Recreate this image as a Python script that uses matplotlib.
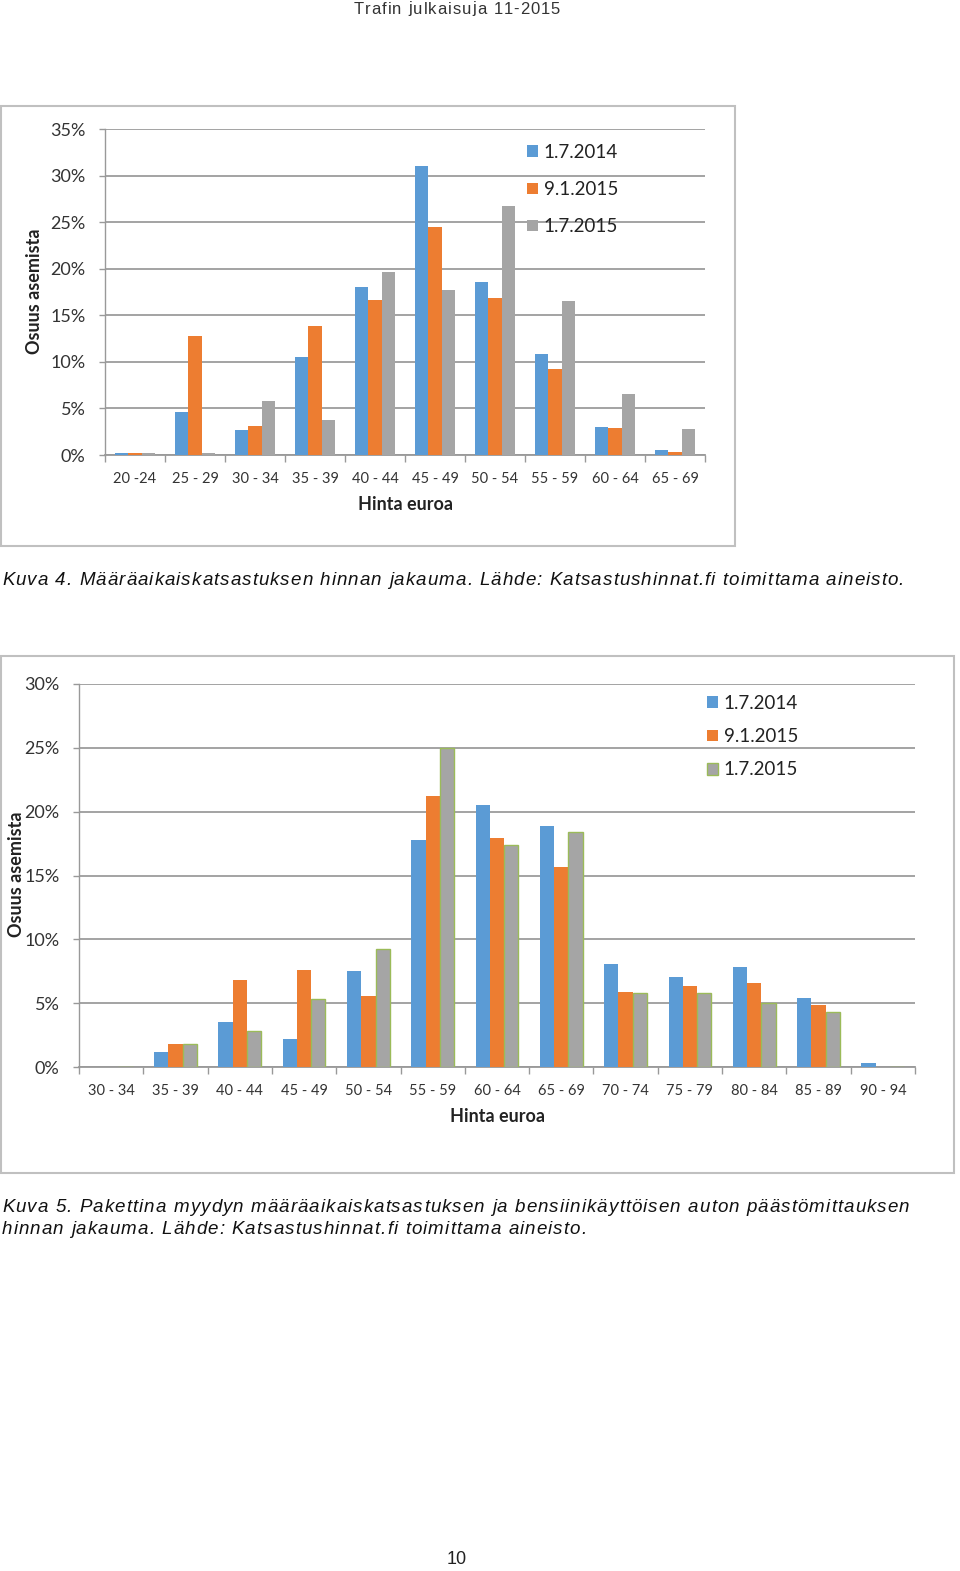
import matplotlib
matplotlib.use("Agg")
import matplotlib.pyplot as plt
import numpy as np
from matplotlib.patches import Rectangle
from matplotlib.font_manager import FontProperties

# Kuva 4 data (osuus asemista, %)
hinnat_1 = ["20 -24", "25 - 29", "30 - 34", "35 - 39", "40 - 44",
            "45 - 49", "50 - 54", "55 - 59", "60 - 64", "65 - 69"]
k4_2014 = [0.25, 4.6, 2.7, 10.55, 18.05, 31.0, 18.6, 10.8, 3.0, 0.55]
k4_2015a = [0.25, 12.8, 3.1, 13.8, 16.6, 24.5, 16.85, 9.2, 2.85, 0.3]
k4_2015b = [0.2, 0.2, 5.75, 3.75, 19.7, 17.7, 26.7, 16.5, 6.5, 2.8]

# Kuva 5 data
hinnat_2 = ["30 - 34", "35 - 39", "40 - 44", "45 - 49", "50 - 54", "55 - 59",
            "60 - 64", "65 - 69", "70 - 74", "75 - 79", "80 - 84", "85 - 89", "90 - 94"]
k5_2014 = [0, 1.15, 3.55, 2.2, 7.55, 17.8, 20.5, 18.9, 8.1, 7.05, 7.8, 5.4, 0.3]
k5_2015a = [0, 1.8, 6.85, 7.6, 5.6, 21.2, 17.95, 15.7, 5.85, 6.35, 6.6, 4.85, 0]
k5_2015b = [0, 1.8, 2.8, 5.3, 9.25, 25.0, 17.4, 18.4, 5.8, 5.8, 5.05, 4.3, 0]

sarjat = ["1.7.2014", "9.1.2015", "1.7.2015"]
varit = ["#5B9BD5", "#ED7D31", "#A5A5A5"]

W, H = 960, 1571
fig = plt.figure(figsize=(W / 100, H / 100), dpi=100)
fig.patch.set_facecolor("white")
renderer = fig.canvas.get_renderer()

FONT = "Lato"
SIVU_FONT = "Liberation Sans"


def px_axes(x0, y0, x1, y1):
    # pikselit -> figuurin koordinaatit
    return fig.add_axes([x0 / W, 1 - y1 / H, (x1 - x0) / W, (y1 - y0) / H])


def fx(x):
    return x / W


def fy(y):
    return 1 - y / H


def leveys(s, prop):
    if not s:
        return 0.0
    w, h, d = renderer.get_text_width_height_descent(s, prop, ismath=False)
    return w


def harva_teksti(x, y, s, size, style="normal", spacing=None, width=None,
                 ha="left", color="#111111"):
    # kirjain kerrallaan, jotta saadaan harvennettu teksti kuten PDF:ssä
    prop = FontProperties(family=SIVU_FONT, size=size, style=style)
    luonnollinen = leveys(s, prop)
    if spacing is None:
        spacing = (width - luonnollinen) / (len(s) - 1)
    kokonais = luonnollinen + spacing * (len(s) - 1)
    if ha == "center":
        x = x - kokonais / 2
    for i, ch in enumerate(s):
        if ch == " ":
            continue
        xi = x + leveys(s[:i], prop) + i * spacing
        fig.text(fx(xi), fy(y), ch, ha="left", va="center", fontproperties=prop,
                 color=color)
    return spacing


def piirra(ax, hinnat, data, ymax, vihrea_reuna, leg_xy, leg_vali):
    n = len(hinnat)
    x = np.arange(n)
    bw = 0.222
    for i, (vals, c) in enumerate(zip(data, varit)):
        if vihrea_reuna and i == 2:
            ax.bar(x + (i - 1) * bw, vals, bw, color=c, edgecolor="#9BBB59",
                   linewidth=1.0, label=sarjat[i], zorder=3)
        else:
            ax.bar(x + (i - 1) * bw, vals, bw, color=c, linewidth=0,
                   label=sarjat[i], zorder=3)
    ax.set_xlim(-0.5, n - 0.5)
    ax.set_ylim(0, ymax)
    ax.set_yticks(np.arange(0, ymax + 0.1, 5))
    ax.set_yticklabels([f"{int(v)}%" for v in np.arange(0, ymax + 0.1, 5)],
                       fontsize=13, family=FONT, color="#333333")
    ax.set_xticks(x)
    ax.set_xticklabels(hinnat, fontsize=10.5, family=FONT, color="#333333")
    ax.set_xticks(np.arange(-0.5, n, 1), minor=True)
    ax.tick_params(axis="x", which="major", length=0, pad=12)
    ax.tick_params(axis="x", which="minor", length=5, color="#999999", width=1)
    ax.tick_params(axis="y", length=4, color="#999999", width=1, pad=10)
    ax.grid(axis="y", color="#9C9C9C", linewidth=1.3, zorder=0)
    for s in ["top", "right"]:
        ax.spines[s].set_visible(False)
    ax.spines["left"].set_color("#999999")
    ax.spines["bottom"].set_color("#999999")
    ax.spines["left"].set_linewidth(1)
    ax.spines["bottom"].set_linewidth(1.3)
    ax.set_axisbelow(True)
    leg = ax.legend(loc="upper left", bbox_to_anchor=(fx(leg_xy[0]), fy(leg_xy[1])),
                    bbox_transform=fig.transFigure, frameon=False,
                    prop={"family": FONT, "size": 13.5}, handlelength=0.6,
                    handleheight=0.6, handletextpad=0.3, labelspacing=leg_vali,
                    borderpad=0, borderaxespad=0)
    for t in leg.get_texts():
        t.set_color("#222222")


# Sivun otsikko
harva_teksti(457, 9, "Trafin julkaisuja 11-2015", 12, width=206, ha="center",
             color="#333333")

# Kuva 4
fig.add_artist(Rectangle((fx(1), fy(546)), fx(734), (546 - 106) / H,
                         transform=fig.transFigure, fill=False,
                         edgecolor="#C0C0C0", linewidth=1.5))
ax1 = px_axes(105, 129, 705, 455)
piirra(ax1, hinnat_1, [k4_2014, k4_2015a, k4_2015b], 35, False, (527, 144), 1.07)
fig.text(fx(34), fy(291), "Osuus asemista", rotation=90, ha="center", va="center",
         fontsize=13, fontweight="bold", family=FONT, color="#222222")
fig.text(fx(405), fy(505), "Hinta euroa", ha="center", va="center",
         fontsize=13, fontweight="bold", family=FONT, color="#222222")
harva_teksti(2, 581, "Kuva 4. Määräaikaiskatsastuksen hinnan jakauma. Lähde: "
             "Katsastushinnat.fi toimittama aineisto.", 13.5, style="italic", width=902)

# Kuva 5
fig.add_artist(Rectangle((fx(1), fy(1173)), fx(953), (1173 - 656) / H,
                         transform=fig.transFigure, fill=False,
                         edgecolor="#C0C0C0", linewidth=1.5))
ax2 = px_axes(79, 684, 915, 1067)
piirra(ax2, hinnat_2, [k5_2014, k5_2015a, k5_2015b], 30, True, (707, 695), 0.86)
fig.text(fx(17), fy(874), "Osuus asemista", rotation=90, ha="center", va="center",
         fontsize=13, fontweight="bold", family=FONT, color="#222222")
fig.text(fx(497), fy(1117), "Hinta euroa", ha="center", va="center",
         fontsize=13, fontweight="bold", family=FONT, color="#222222")
vali = harva_teksti(2, 1208, "Kuva 5. Pakettina myydyn määräaikaiskatsastuksen ja "
                    "bensiinikäyttöisen auton päästömittauksen", 13.5, style="italic",
                    width=907)
harva_teksti(2, 1230, "hinnan jakauma. Lähde: Katsastushinnat.fi toimittama aineisto.",
             13.5, style="italic", spacing=vali)

# Sivunumero
fig.text(fx(457), fy(1559), "10", ha="center", va="center", fontsize=13,
         family=SIVU_FONT, color="#222222")

fig.savefig("out.png", dpi=100)
